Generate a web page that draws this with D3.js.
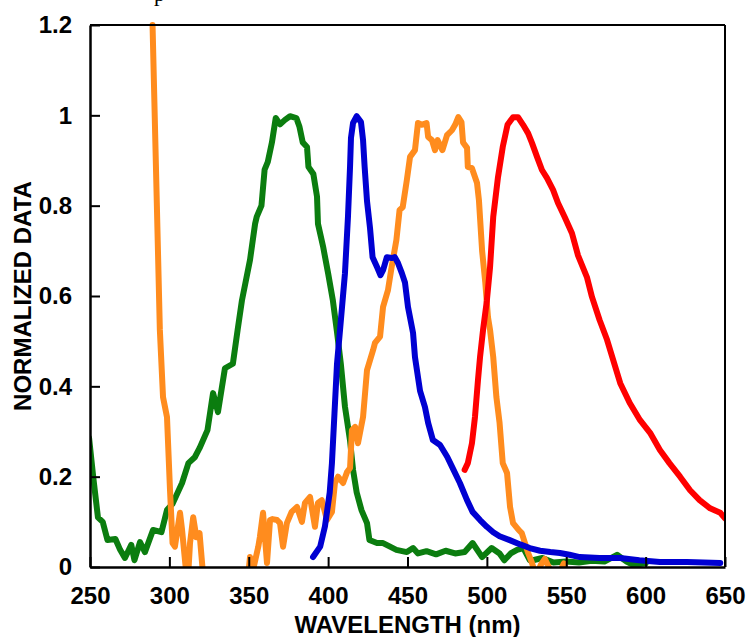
<!DOCTYPE html>
<html lang="en">
<head>
<meta charset="UTF-8">
<title>Normalized spectra</title>
<script src="https://d3js.org/d3.v7.min.js"></script>
<style>
  body { margin: 0; background: #fff; }
  text { font-family: "Liberation Sans", Arial, sans-serif; font-weight: bold; }
</style>
</head>
<body>
<div id="chart"></div>
<script>
// axis ticks
var xTicks = [250, 300, 350, 400, 450, 500, 550, 600, 650];
var yTicks = [0, 0.2, 0.4, 0.6, 0.8, 1, 1.2];
var yTickLabels = ["0", "0.2", "0.4", "0.6", "0.8", "1", "1.2"];

// green series
var greenX = [249.4, 252, 255, 258, 261, 266, 269, 272, 276, 278, 281.5, 284.6, 289.7, 295, 298.5, 302, 308, 312, 316, 319, 324, 327.5, 330.6, 335, 340, 343, 345.7, 350.8, 354, 355, 358, 360, 362, 364.6, 367, 369.7, 372.8, 376, 380, 382, 384, 386.7, 387.6, 390.7, 393, 393.6, 396.8, 400, 403, 405.6, 408, 410.6, 413.8, 415.7, 418, 421, 424.5, 426, 430.8, 434.6, 439, 443, 449.6, 453.5, 456.6, 462, 468, 474, 480, 486, 491, 497, 503, 508, 511, 515, 519, 523, 527, 529, 535, 542, 550, 558, 566, 574, 582, 588, 592, 600];
var greenY = [0.286, 0.2, 0.11, 0.10, 0.06, 0.062, 0.038, 0.02, 0.049, 0.015, 0.055, 0.033, 0.082, 0.077, 0.126, 0.14, 0.186, 0.23, 0.243, 0.263, 0.303, 0.385, 0.343, 0.44, 0.45, 0.525, 0.59, 0.68, 0.76, 0.775, 0.80, 0.88, 0.897, 0.94, 0.994, 0.98, 0.99, 0.998, 0.994, 0.974, 0.94, 0.93, 0.886, 0.87, 0.82, 0.76, 0.71, 0.65, 0.59, 0.52, 0.45, 0.355, 0.28, 0.215, 0.165, 0.126, 0.097, 0.06, 0.053, 0.053, 0.045, 0.038, 0.033, 0.042, 0.03, 0.035, 0.028, 0.036, 0.03, 0.033, 0.053, 0.022, 0.042, 0.03, 0.015, 0.03, 0.038, 0.042, 0.015, 0.015, 0.02, 0.01, 0.012, 0.01, 0.014, 0.012, 0.027, 0.012, 0.005, 0.008];

// blue series
var blueX = [390.5, 395, 398, 401, 402.4, 404, 405.6, 407.5, 410.6, 412.5, 413.8, 414.4, 415.7, 418, 420.7, 422, 423, 424.5, 426.4, 428, 430.8, 433, 434.6, 437, 440, 442, 444, 446.5, 448.4, 450.3, 453.5, 454.7, 457.9, 461, 463, 466, 470.5, 475, 479, 483, 487.5, 491, 495.7, 500, 504, 508, 514, 521, 527, 533.5, 540, 546, 552, 558.6, 571, 584, 596, 609, 626, 647];
var blueY = [0.022, 0.045, 0.09, 0.165, 0.23, 0.34, 0.45, 0.525, 0.65, 0.775, 0.886, 0.95, 0.983, 0.998, 0.985, 0.945, 0.886, 0.81, 0.75, 0.686, 0.664, 0.646, 0.657, 0.686, 0.684, 0.686, 0.673, 0.65, 0.63, 0.576, 0.518, 0.465, 0.39, 0.354, 0.319, 0.281, 0.27, 0.244, 0.215, 0.186, 0.148, 0.122, 0.104, 0.089, 0.077, 0.068, 0.06, 0.05, 0.042, 0.036, 0.033, 0.031, 0.027, 0.022, 0.02, 0.02, 0.015, 0.011, 0.011, 0.009];

// orange series (dips below zero are clipped by the axis)
var orangeX = [289.4, 294, 296, 298.5, 300.4, 302, 303.5, 306.7, 308, 310, 311.5, 313, 315, 317, 319, 320.6, 322, 349, 350.8, 352.5, 356, 357, 359, 361.5, 363.4, 365, 367.8, 369.7, 371.6, 374, 377, 380.4, 383.5, 385.4, 388.6, 391.7, 393.6, 396, 399.3, 402.4, 404.3, 406.2, 409.4, 411.9, 413.8, 415, 417, 418.8, 422, 424.5, 426.4, 428.3, 429.5, 432.7, 434.6, 437.7, 440, 443, 445, 447, 449.6, 451.6, 454.7, 456.6, 459, 462, 463, 465.4, 467.3, 469, 472, 474.9, 478, 480, 482, 484, 485, 487.5, 488, 490.6, 493.8, 495, 497, 499, 500.7, 502, 504, 506, 508, 510, 512.7, 514.6, 516.5, 520, 522, 524, 526, 528.4, 531, 534, 536.5, 539, 542, 546, 548.5, 551];
var orangeY = [1.2, 0.525, 0.376, 0.332, 0.17, 0.053, 0.045, 0.12, 0.082, 0.009, -0.04, 0.053, 0.11, 0.066, 0.075, 0.009, -0.05, -0.04, 0.022, -0.01, 0.045, 0.066, 0.12, 0.009, 0.104, 0.106, 0.104, 0.097, 0.045, 0.097, 0.122, 0.133, 0.1, 0.142, 0.155, 0.089, 0.142, 0.148, 0.104, 0.122, 0.186, 0.2, 0.186, 0.21, 0.219, 0.303, 0.31, 0.274, 0.332, 0.436, 0.458, 0.48, 0.496, 0.51, 0.576, 0.613, 0.664, 0.724, 0.79, 0.797, 0.857, 0.908, 0.923, 0.983, 0.979, 0.983, 0.952, 0.945, 0.923, 0.945, 0.923, 0.956, 0.967, 0.979, 0.996, 0.985, 0.94, 0.928, 0.886, 0.883, 0.85, 0.812, 0.70, 0.63, 0.553, 0.525, 0.465, 0.376, 0.319, 0.23, 0.208, 0.133, 0.097, 0.082, 0.075, 0.053, 0.031, 0.009, -0.02, 0.005, 0.018, 0.0, -0.02, -0.01, 0.008, -0.02];

// red series
var redX = [486, 488, 490.6, 492.5, 494.4, 495.7, 497.6, 500, 502, 504, 507, 510, 513, 516.5, 519.6, 522.8, 526, 528.4, 531.6, 534.7, 537.9, 541.7, 544.8, 549, 553.6, 557.4, 563, 566.2, 571, 575.7, 584, 590, 596.5, 602.8, 609, 615, 621.7, 628, 634, 640.6, 647, 650];
var redY = [0.215, 0.23, 0.274, 0.332, 0.414, 0.465, 0.525, 0.59, 0.664, 0.775, 0.863, 0.93, 0.979, 0.996, 0.996, 0.979, 0.96, 0.939, 0.908, 0.879, 0.861, 0.835, 0.806, 0.775, 0.739, 0.69, 0.642, 0.598, 0.547, 0.503, 0.407, 0.363, 0.325, 0.297, 0.259, 0.23, 0.2, 0.17, 0.148, 0.13, 0.12, 0.108];

var margin = {top: 25, right: 22, bottom: 70, left: 90};
var W = 747, H = 637;
var x0 = margin.left, x1 = W - margin.right;
var y0 = H - margin.bottom, y1 = margin.top;

var svg = d3.select("#chart").append("svg")
    .attr("width", W)
    .attr("height", H);

var x = d3.scaleLinear().domain([250, 650]).range([x0, x1]);
var y = d3.scaleLinear().domain([0, 1.2]).range([y0, y1]);

svg.append("clipPath").attr("id", "plotclip")
  .append("rect")
    .attr("x", x0).attr("y", y1 - 3)
    .attr("width", x1 - x0).attr("height", y0 - y1 + 3);

// cut-off caption letter at the very top
svg.append("text")
    .attr("x", 154).attr("y", 1)
    .style("font-family", "'Liberation Serif', serif")
    .style("font-weight", "normal")
    .style("font-size", "22px")
    .text("p");

var line = d3.line()
    .x(function(d) { return x(d[0]); })
    .y(function(d) { return y(d[1]); });

var series = [
  { xs: greenX, ys: greenY, color: "#0b7d0f" },
  { xs: orangeX, ys: orangeY, color: "#ff8c1e" },
  { xs: blueX, ys: blueY, color: "#0000d2" },
  { xs: redX, ys: redY, color: "#ff0000" }
];

var g = svg.append("g").attr("clip-path", "url(#plotclip)");
series.forEach(function(s) {
  g.append("path")
    .datum(s.xs.map(function(v, i) { return [v, s.ys[i]]; }))
    .attr("d", line)
    .attr("fill", "none")
    .attr("stroke", s.color)
    .attr("stroke-width", 6)
    .attr("stroke-linejoin", "round")
    .attr("stroke-linecap", "round");
});

// frame: top and right
svg.append("line")
    .attr("x1", x0).attr("x2", x1).attr("y1", y1).attr("y2", y1)
    .attr("stroke", "#000").attr("stroke-width", 2);
svg.append("line")
    .attr("x1", x1).attr("x2", x1).attr("y1", y1).attr("y2", y0)
    .attr("stroke", "#000").attr("stroke-width", 2);

// x axis, ticks pointing inward
var xAxis = svg.append("g")
    .attr("transform", "translate(0," + y0 + ")")
    .call(d3.axisBottom(x).tickValues(xTicks).tickSizeInner(-10).tickSizeOuter(0).tickPadding(20));
xAxis.select(".domain").attr("stroke-width", 2.5);
xAxis.selectAll(".tick line").attr("stroke-width", 2);
xAxis.selectAll("text")
    .attr("fill", "#000")
    .style("font-size", "24px")
    .style("font-family", "'Liberation Sans', Arial, sans-serif")
    .style("font-weight", "bold");

// y axis, ticks pointing inward
var yAxis = svg.append("g")
    .attr("transform", "translate(" + x0 + ",0)")
    .call(d3.axisLeft(y).tickValues(yTicks).tickSizeInner(-10).tickSizeOuter(0).tickPadding(18)
      .tickFormat(function(d, i) { return yTickLabels[i]; }));
yAxis.select(".domain").attr("stroke-width", 2.5);
yAxis.selectAll(".tick line").attr("stroke-width", 2);
yAxis.selectAll("text")
    .attr("fill", "#000")
    .style("font-size", "24px")
    .style("font-family", "'Liberation Sans', Arial, sans-serif")
    .style("font-weight", "bold");

// axis titles
svg.append("text")
    .attr("x", (x0 + x1) / 2)
    .attr("y", 633)
    .attr("text-anchor", "middle")
    .style("font-size", "24px")
    .text("WAVELENGTH (nm)");

svg.append("text")
    .attr("transform", "translate(31," + (y0 + y1) / 2 + ") rotate(-90)")
    .attr("text-anchor", "middle")
    .style("font-size", "24px")
    .text("NORMALIZED DATA");
</script>
</body>
</html>
